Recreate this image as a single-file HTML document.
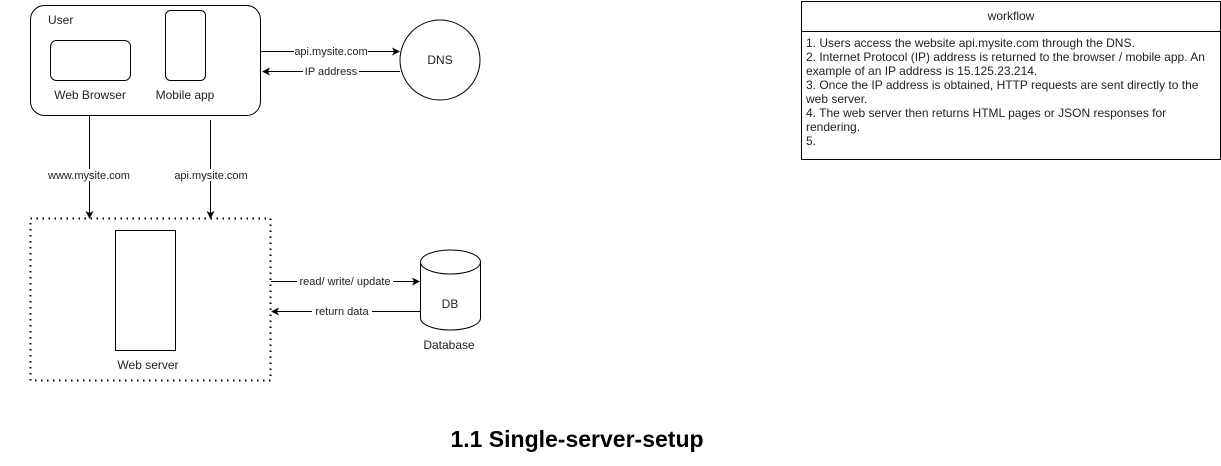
<!DOCTYPE html>
<html><head><style>
body{margin:0;background:#fff;}
svg text{font-family:"Liberation Sans",Arial,sans-serif;}
</style></head><body>
<svg width="1221" height="461" xmlns="http://www.w3.org/2000/svg">
<defs><marker id="a" markerWidth="8" markerHeight="8" refX="7" refY="4" orient="auto" markerUnits="userSpaceOnUse"><path d="M0,0 L8,4 L0,8 L2,4 z" fill="#000"/></marker></defs>
<g fill="none" stroke="#000" stroke-width="1">
<rect x="30.5" y="5.5" width="230" height="110" rx="14"/>
<rect x="50.5" y="40.5" width="80" height="40" rx="6"/>
<rect x="165.5" y="10.5" width="40" height="70" rx="5"/>
<circle cx="440" cy="60" r="40"/>
<line x1="261" y1="51.5" x2="399" y2="51.5" marker-end="url(#a)"/>
<line x1="400" y1="71.5" x2="263" y2="71.5" marker-end="url(#a)"/>
<line x1="89.5" y1="116" x2="89.5" y2="218" marker-end="url(#a)"/>
<line x1="210.5" y1="120" x2="210.5" y2="218" marker-end="url(#a)"/>
<rect x="30.5" y="218.5" width="240" height="162" stroke-dasharray="1.5 4.5" stroke-width="2"/>
<rect x="115.5" y="230.5" width="60" height="120"/>
<path d="M420.5,262 v56 a30,12 0 0 0 60,0 v-56 a30,12 0 0 0 -60,0 a30,12 0 0 0 60,0"/>
<line x1="271" y1="281.5" x2="419" y2="281.5" marker-end="url(#a)"/>
<line x1="420" y1="311.5" x2="272" y2="311.5" marker-end="url(#a)"/>
<rect x="801.5" y="1.5" width="419" height="158"/>
<line x1="801" y1="31.5" x2="1220" y2="31.5"/>
</g>
<g font-size="12" fill="#222">
<text x="48" y="24">User</text>
<text x="90" y="99" text-anchor="middle">Web Browser</text>
<text x="185" y="99" text-anchor="middle">Mobile app</text>
<text x="440" y="64" text-anchor="middle">DNS</text>
<text x="450" y="308" text-anchor="middle">DB</text>
<text x="449" y="349" text-anchor="middle">Database</text>
<text x="148" y="369" text-anchor="middle">Web server</text>
<text x="1011" y="20" text-anchor="middle">workflow</text>
</g>
<g font-size="11" text-anchor="middle" fill="#222">
<rect x="294" y="45" width="74" height="12" fill="#fff"/><text x="331" y="55">api.mysite.com</text>
<rect x="303" y="65" width="56" height="12" fill="#fff"/><text x="331" y="75">IP address</text>
<rect x="45" y="169" width="88" height="12" fill="#fff"/><text x="89" y="179">www.mysite.com</text>
<rect x="172" y="169" width="78" height="12" fill="#fff"/><text x="211" y="179">api.mysite.com</text>
<rect x="297" y="275" width="96" height="12" fill="#fff"/><text x="345" y="285">read/ write/ update</text>
<rect x="312" y="305" width="60" height="12" fill="#fff"/><text x="342" y="315">return data</text>
</g>
<g font-size="12" fill="#222">
<text x="806" y="47">1. Users access the website api.mysite.com through the DNS.</text>
<text x="806" y="61">2. Internet Protocol (IP) address is returned to the browser / mobile app. An</text>
<text x="806" y="75">example of an IP address is 15.125.23.214.</text>
<text x="806" y="89">3. Once the IP address is obtained, HTTP requests are sent directly to the</text>
<text x="806" y="103">web server.</text>
<text x="806" y="117">4. The web server then returns HTML pages or JSON responses for</text>
<text x="806" y="131">rendering.</text>
<text x="806" y="145">5.</text>
</g>
<text x="577" y="447" font-size="23" font-weight="bold" text-anchor="middle">1.1 Single-server-setup</text>
</svg>
</body></html>
